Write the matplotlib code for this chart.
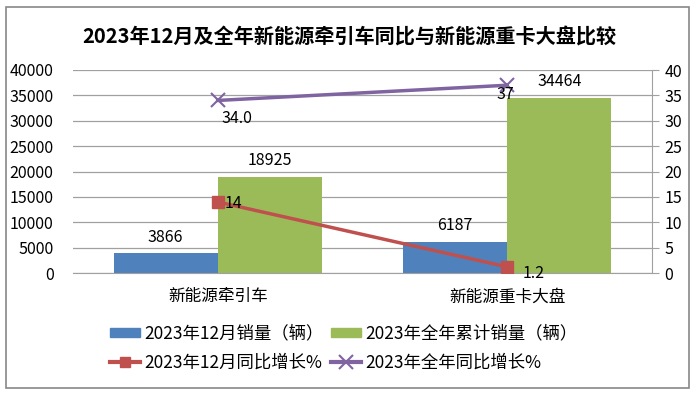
import matplotlib.pyplot as plt
import numpy as np
from matplotlib.patches import Rectangle
from matplotlib.lines import Line2D

plt.rcParams['font.family'] = ['Noto Sans CJK SC', 'DejaVu Sans']

# 데이터
categories = ['新能源牵引车', '新能源重卡大盘']
dec_sales = [3866, 6187]
year_sales = [18925, 34464]
dec_growth = [14, 1.2]
year_growth = [34.0, 37]
dec_growth_labels = ['14', '1.2']
year_growth_labels = ['34.0', '37']

c_blue = '#4F81BD'
c_green = '#9BBB59'
c_red = '#C0504D'
c_purple = '#8064A2'

fig = plt.figure(figsize=(6.99, 3.94), dpi=100)
# 바깥 테두리
fig.patches.append(Rectangle((6 / 699, 6 / 394), 683 / 699, 381 / 394, transform=fig.transFigure,
                             fill=False, edgecolor='#888888', linewidth=1.2))

ax = fig.add_axes([73 / 699, 1 - 273 / 394, 579 / 699, 203 / 394])
x = np.arange(len(categories))
w = 0.36
ax.bar(x - w / 2, dec_sales, w, color=c_blue, zorder=2)
ax.bar(x + w / 2, year_sales, w, color=c_green, zorder=2)
for i in range(len(x)):
    ax.text(x[i] - w / 2, dec_sales[i] + 1500, str(dec_sales[i]), ha='center', va='bottom', fontsize=11.5)
    ax.text(x[i] + w / 2, year_sales[i] + 1500, str(year_sales[i]), ha='center', va='bottom', fontsize=11.5)

ax.set_xlim(-0.5, 1.5)
ax.set_ylim(0, 40000)
ax.set_yticks(np.arange(0, 40001, 5000))
ax.set_xticks(x)
ax.set_xticklabels(categories, fontsize=12)
ax.tick_params(axis='y', length=0, labelsize=11.5, pad=14)
ax.tick_params(axis='x', length=0, pad=11)
ax.grid(axis='y', color='#A0A0A0', linewidth=0.9, zorder=0)
for s in ['top', 'left', 'right']:
    ax.spines[s].set_visible(False)
ax.spines['bottom'].set_color('#A0A0A0')

ax2 = ax.twinx()
ax2.plot(x, dec_growth, color=c_red, linewidth=2.5, marker='s', markersize=8, zorder=3)
ax2.plot(x, year_growth, color=c_purple, linewidth=2.5, marker='x', markersize=10, markeredgewidth=1.5, zorder=3)
ax2.text(x[0] + 0.055, dec_growth[0] - 0.3, dec_growth_labels[0], ha='center', va='center', fontsize=11.5)
ax2.text(x[1] + 0.09, dec_growth[1] - 1.3, dec_growth_labels[1], ha='center', va='center', fontsize=11.5)
ax2.text(x[0] + 0.065, year_growth[0] - 3.6, year_growth_labels[0], ha='center', va='center', fontsize=11.5)
ax2.text(x[1] - 0.005, year_growth[1] - 1.8, year_growth_labels[1], ha='center', va='center', fontsize=11.5)
ax2.set_ylim(0, 40)
ax2.set_yticks(np.arange(0, 41, 5))
ax2.tick_params(axis='y', labelsize=11.5, color='#A0A0A0', length=5, pad=4)
for s in ['top', 'left', 'bottom']:
    ax2.spines[s].set_visible(False)
ax2.spines['right'].set_color('#A0A0A0')

fig.text(0.5, 1 - 37 / 394, '2023年12月及全年新能源牵引车同比与新能源重卡大盘比较',
         ha='center', va='center', fontsize=14.5, fontweight='bold')

# 범례 : 열 우선으로 채워지므로 순서를 맞춤
handles = [
    Rectangle((0, 0), 1, 1, color=c_blue),
    Line2D([], [], color=c_red, linewidth=3, marker='s', markersize=7),
    Rectangle((0, 0), 1, 1, color=c_green),
    Line2D([], [], color=c_purple, linewidth=3, marker='x', markersize=10, markeredgewidth=1.5),
]
labels = ['2023年12月销量（辆）', '2023年12月同比增长%', '2023年全年累计销量（辆）', '2023年全年同比增长%']
fig.legend(handles, labels, loc='center left', bbox_to_anchor=(110 / 699, 1 - 348 / 394), ncol=2,
           frameon=False, fontsize=12.5, handlelength=1.75, handleheight=0.5, columnspacing=0.4,
           labelspacing=0.62, handletextpad=0.25, borderpad=0, borderaxespad=0)

plt.savefig('out.png', dpi=100)
